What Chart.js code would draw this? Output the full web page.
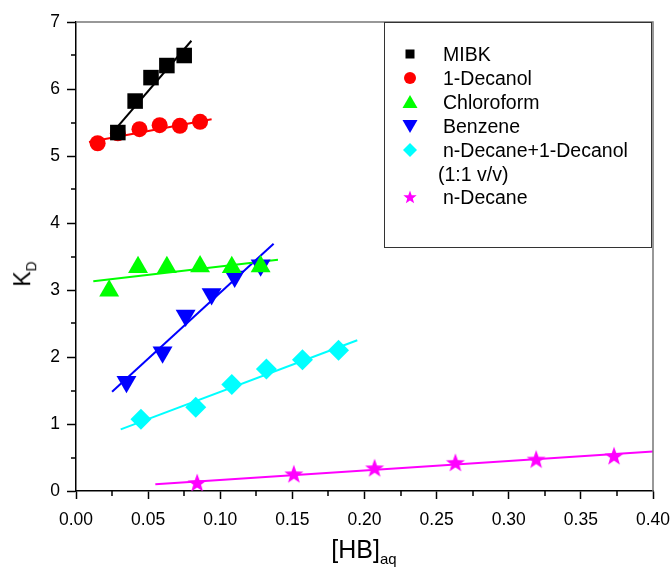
<!DOCTYPE html>
<html>
<head>
<meta charset="utf-8">
<script src="https://cdn.jsdelivr.net/npm/chart.js@4"></script>
<style>
  body { margin: 0; background: #fff; }
  #wrap { position: relative; width: 672px; height: 572px; font-family: "Liberation Sans", Arial, sans-serif; color: #000; }
  #legend { position: absolute; left: 384px; top: 22px; width: 268px; height: 226px; border: 1px solid #333; box-sizing: border-box; }
  .row { position: absolute; left: 0; height: 20px; line-height: 20px; font-size: 19.5px; white-space: nowrap; }
  .row svg { position: absolute; left: 17px; top: 2px; }
  .row span { position: absolute; left: 58px; }
  #ytitle { position: absolute; left: 24px; top: 274px; transform: translate(-50%, -50%) rotate(-90deg); font-size: 23px; white-space: nowrap; }
  #xtitle { position: absolute; left: 364px; top: 551px; transform: translate(-50%, -50%); font-size: 25px; white-space: nowrap; }
  sub { font-size: 60%; }
</style>
</head>
<body>
<div id="wrap">
  <canvas id="chart" width="672" height="572"></canvas>
  <div id="legend"></div>
  <div id="ytitle">K<sub>D</sub></div>
  <div id="xtitle">[HB]<sub>aq</sub></div>
</div>
<script>
// axis ticks
const xTicks = [0, 0.05, 0.10, 0.15, 0.20, 0.25, 0.30, 0.35, 0.40];
const xMinorTicks = [0.025, 0.075, 0.125, 0.175, 0.225, 0.275, 0.325, 0.375];
const yTicks = [0, 1, 2, 3, 4, 5, 6, 7];
const yMinorTicks = [0.5, 1.5, 2.5, 3.5, 4.5, 5.5, 6.5];

// measured points
const mibkX = [0.029, 0.041, 0.052, 0.063, 0.075];
const mibkY = [5.35, 5.82, 6.17, 6.35, 6.50];
const decanolX = [0.015, 0.029, 0.044, 0.058, 0.072, 0.086];
const decanolY = [5.19, 5.34, 5.40, 5.46, 5.45, 5.51];
const chloroX = [0.023, 0.043, 0.063, 0.086, 0.108, 0.128];
const chloroY = [2.99, 3.34, 3.34, 3.35, 3.34, 3.35];
const benzeneX = [0.035, 0.060, 0.076, 0.094, 0.110, 0.128];
const benzeneY = [1.63, 2.07, 2.62, 2.94, 3.20, 3.37];
const mixX = [0.045, 0.083, 0.108, 0.132, 0.157, 0.182];
const mixY = [1.07, 1.25, 1.59, 1.82, 1.96, 2.10];
const decaneX = [0.084, 0.151, 0.207, 0.263, 0.319, 0.373];
const decaneY = [0.12, 0.25, 0.34, 0.42, 0.47, 0.52];

// fitted lines, [x, y] ends
const mibkFit = [[0.025, 5.34], [0.080, 6.72]];
const decanolFit = [[0.009, 5.21], [0.094, 5.55]];
const chloroFit = [[0.012, 3.13], [0.140, 3.45]];
const benzeneFit = [[0.025, 1.48], [0.137, 3.69]];
const mixFit = [[0.031, 0.92], [0.195, 2.25]];
const decaneFit = [[0.055, 0.10], [0.40, 0.59]];

const FONT = "'Liberation Sans', Arial, sans-serif";

function pts(xs, ys) { return xs.map((x, i) => ({ x, y: ys[i] })); }
function fitPts(f) { return f.map(p => ({ x: p[0], y: p[1] })); }

// filled 5-point star for n-Decane
const starImg = document.createElement("canvas");
starImg.width = 22; starImg.height = 22;
(function () {
  const c = starImg.getContext("2d");
  c.fillStyle = "#ff00ff";
  c.beginPath();
  for (let i = 0; i < 10; i++) {
    const r = i % 2 === 0 ? 10 : 4.1;
    const a = -Math.PI / 2 + i * Math.PI / 5;
    const px = 11 + r * Math.cos(a), py = 11.5 + r * Math.sin(a);
    if (i === 0) c.moveTo(px, py); else c.lineTo(px, py);
  }
  c.closePath();
  c.fill();
})();

const series = [
  { label: "MIBK", x: mibkX, y: mibkY, fit: mibkFit, color: "#000000", style: "rect", r: 11, rot: 0 },
  { label: "1-Decanol", x: decanolX, y: decanolY, fit: decanolFit, color: "#ff0000", style: "circle", r: 8, rot: 0 },
  { label: "Chloroform", x: chloroX, y: chloroY, fit: chloroFit, color: "#00ff00", style: "triangle", r: 11.5, rot: 0 },
  { label: "Benzene", x: benzeneX, y: benzeneY, fit: benzeneFit, color: "#0000ff", style: "triangle", r: 11.5, rot: 180 },
  { label: "n-Decane+1-Decanol", x: mixX, y: mixY, fit: mixFit, color: "#00ffff", style: "rectRot", r: 10.5, rot: 0 },
  { label: "n-Decane", x: decaneX, y: decaneY, fit: decaneFit, color: "#ff00ff", style: starImg, r: 10, rot: 0 }
];

const datasets = [];
series.forEach(s => {
  datasets.push({
    label: s.label, data: pts(s.x, s.y), showLine: false,
    pointStyle: s.style, pointRadius: s.r, pointRotation: s.rot,
    backgroundColor: s.color, borderColor: s.color, borderWidth: 0
  });
});
series.forEach(s => {
  datasets.push({
    label: s.label + " fit", data: fitPts(s.fit), showLine: true,
    pointRadius: 0, borderColor: s.color, borderWidth: 2, fill: false
  });
});

// frame + minor ticks
const framePlugin = {
  id: "frame",
  afterDraw(chart) {
    const { ctx, chartArea: a, scales: { x, y } } = chart;
    ctx.save();
    ctx.strokeStyle = "#777";
    ctx.lineWidth = 1.5;
    ctx.beginPath();
    ctx.moveTo(a.left, a.top);
    ctx.lineTo(a.right, a.top);
    ctx.lineTo(a.right, a.bottom);
    ctx.stroke();
    ctx.strokeStyle = "#000";
    ctx.beginPath();
    xMinorTicks.forEach(v => {
      const px = Math.round(x.getPixelForValue(v));
      ctx.moveTo(px, a.bottom); ctx.lineTo(px, a.bottom + 5);
    });
    yMinorTicks.forEach(v => {
      const py = Math.round(y.getPixelForValue(v));
      ctx.moveTo(a.left, py); ctx.lineTo(a.left - 5, py);
    });
    ctx.stroke();
    ctx.restore();
  }
};

new Chart(document.getElementById("chart"), {
  type: "scatter",
  data: { datasets },
  plugins: [framePlugin],
  options: {
    responsive: false,
    animation: false,
    events: [],
    layout: { padding: { top: 22, right: 19, left: 0, bottom: 0 } },
    plugins: { legend: { display: false }, tooltip: { enabled: false } },
    scales: {
      x: {
        type: "linear", min: 0, max: 0.4,
        afterBuildTicks: s => { s.ticks = xTicks.map(v => ({ value: v })); },
        afterFit: s => { s.height = 81; s.paddingRight = 0; s.paddingLeft = 0; },
        ticks: { callback: v => v.toFixed(2), color: "#000", padding: 11, maxRotation: 0, font: { family: FONT, size: 17.5 } },
        grid: { drawOnChartArea: false, tickLength: 8, tickColor: "#000", tickWidth: 1.5 },
        border: { color: "#000", width: 1.5 }
      },
      y: {
        type: "linear", min: 0, max: 7,
        afterBuildTicks: s => { s.ticks = yTicks.map(v => ({ value: v })); },
        afterFit: s => { s.width = 76; s.paddingTop = 0; s.paddingBottom = 0; },
        ticks: { callback: v => String(v), color: "#000", padding: 7, font: { family: FONT, size: 17.5 } },
        grid: { drawOnChartArea: false, tickLength: 9, tickColor: "#000", tickWidth: 1.5 },
        border: { color: "#000", width: 1.5 }
      }
    }
  }
});

// legend box
const legendRows = [
  { text: "MIBK", top: 20.5, shape: "square", color: "#000000" },
  { text: "1-Decanol", top: 44.5, shape: "circle", color: "#ff0000" },
  { text: "Chloroform", top: 68.5, shape: "up", color: "#00ff00" },
  { text: "Benzene", top: 92.5, shape: "down", color: "#0000ff" },
  { text: "n-Decane+1-Decanol", top: 116.5, shape: "diamond", color: "#00ffff" },
  { text: "(1:1 v/v)", top: 141, shape: null, color: null, left: 53 },
  { text: "n-Decane", top: 164, shape: "star", color: "#ff00ff" }
];
const shapes = {
  square: c => `<rect x="3.5" y="3.5" width="9" height="9" fill="${c}"/>`,
  circle: c => `<circle cx="8" cy="8" r="6" fill="${c}"/>`,
  up: c => `<polygon points="8,1 15.5,14 0.5,14" fill="${c}"/>`,
  down: c => `<polygon points="0.5,2 15.5,2 8,15" fill="${c}"/>`,
  diamond: c => `<polygon points="8,1 15,8 8,15 1,8" fill="${c}"/>`,
  star: c => {
    let p = [];
    for (let i = 0; i < 10; i++) {
      const r = i % 2 === 0 ? 7 : 2.9;
      const a = -Math.PI / 2 + i * Math.PI / 5;
      p.push((8 + r * Math.cos(a)).toFixed(2) + "," + (8.5 + r * Math.sin(a)).toFixed(2));
    }
    return `<polygon points="${p.join(" ")}" fill="${c}"/>`;
  }
};
const lg = document.getElementById("legend");
legendRows.forEach(r => {
  const d = document.createElement("div");
  d.className = "row";
  d.style.top = r.top + "px";
  let html = "";
  if (r.shape) html += `<svg width="16" height="16" viewBox="0 0 16 16">${shapes[r.shape](r.color)}</svg>`;
  html += `<span style="left:${r.left || 58}px">${r.text}</span>`;
  d.innerHTML = html;
  lg.appendChild(d);
});
</script>
</body>
</html>
